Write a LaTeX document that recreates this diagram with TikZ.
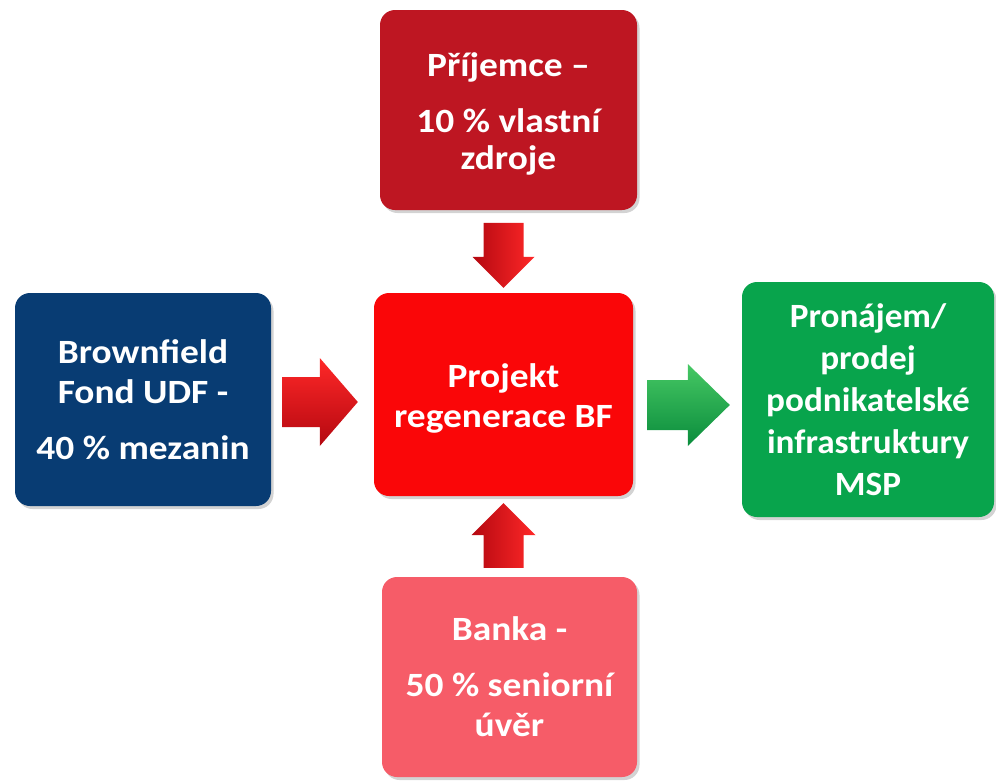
\documentclass[tikz,border=0pt]{standalone}
\usepackage{fontspec}
\setmainfont{Carlito}
\newfontfamily\widefont[FakeStretch=1.1]{Carlito}
\newfontfamily\grnfont[FakeStretch=1.035]{Carlito}
\usetikzlibrary{calc,shadows}
\definecolor{topred}{RGB}{190,22,34}
\definecolor{leftblue}{RGB}{8,60,115}
\definecolor{midred}{RGB}{250,6,8}
\definecolor{rightgreen}{RGB}{8,164,76}
\definecolor{botpink}{RGB}{246,92,104}
\definecolor{arrlight}{RGB}{255,40,40}
\definecolor{arrdark}{RGB}{180,8,16}
\definecolor{grnlight}{RGB}{70,200,100}
\definecolor{grndark}{RGB}{10,140,60}
\newcommand\blockarrow[6]{%
  \coordinate (ba-h) at ($(#2)!#5!(#1)$);
  \path[#6] ($(#1)!#3!90:(#2)$) -- ($(ba-h)!#3!90:(#2)$) -- ($(ba-h)!#4!90:(#2)$)
    -- (#2) -- ($(ba-h)!#4!-90:(#2)$) -- ($(ba-h)!#3!-90:(#2)$)
    -- ($(#1)!#3!-90:(#2)$) -- cycle;
}
\newcommand\lowertext[2]{\raisebox{-#1}[\height][\depth]{\parbox{250pt}{\centering #2}}}
\tikzset{
  box/.style={rounded corners=15pt, text=white, align=center, inner sep=0pt,
    drop shadow={opacity=0.35, shadow xshift=2.5pt, shadow yshift=-3pt}},
  redarrowh/.style={top color=arrlight, bottom color=arrdark},
  redarrowv/.style={left color=arrdark, right color=arrlight},
  grnarrow/.style={top color=grnlight, bottom color=grndark},
}
\begin{document}
\begin{tikzpicture}[x=1pt,y=-1pt]
\useasboundingbox (0,0) rectangle (996,782);
\node[box, fill=topred, minimum width=257pt, minimum height=200pt,
  font=\widefont\fontsize{34}{37}\selectfont\bfseries] (top) at (508.5,110)
  {\lowertext{4pt}{Příjemce –\\[19pt]10 \% vlastní\\zdroje}};
\node[box, fill=leftblue, minimum width=256pt, minimum height=213pt,
  font=\widefont\fontsize{34}{40}\selectfont\bfseries] (left) at (143,399.5)
  {Brownfield\\Fond UDF -\\[16pt]40 \% mezanin};
\node[box, fill=midred, minimum width=259pt, minimum height=203pt,
  font=\widefont\fontsize{34}{40}\selectfont\bfseries] (mid) at (503.5,394.5)
  {\lowertext{4pt}{Projekt\\regenerace BF}};
\node[box, fill=rightgreen, minimum width=252pt, minimum height=235pt,
  font=\grnfont\fontsize{34}{42}\selectfont\bfseries] (right) at (868,399.5)
  {Pronájem/\\prodej\\podnikatelské\\infrastruktury\\MSP};
\node[box, fill=botpink, minimum width=255pt, minimum height=200pt,
  font=\widefont\fontsize{34}{40}\selectfont\bfseries] (bot) at (509.5,677)
  {Banka -\\[16pt]50 \% seniorní\\úvěr};
% arrows
\coordinate (a1s) at ($(mid.north)+(0,-70)$);
\coordinate (a1e) at ($(mid.north)+(0,-5)$);
\blockarrow{a1s}{a1e}{20pt}{31pt}{31pt}{redarrowv}
\coordinate (a2s) at ($(bot.north)+(-6,-9)$);
\coordinate (a2e) at ($(mid.south)+(0,7)$);
\blockarrow{a2s}{a2e}{20pt}{32pt}{32pt}{redarrowv}
\coordinate (a3s) at ($(left.east)+(11,2.5)$);
\coordinate (a3e) at ($(mid.west)+(-16,7.5)$);
\blockarrow{a3s}{a3e}{25pt}{44pt}{38pt}{redarrowh}
\coordinate (a4s) at ($(mid.east)+(14,10.5)$);
\coordinate (a4e) at ($(right.west)+(-12,5.5)$);
\blockarrow{a4s}{a4e}{25pt}{41pt}{42pt}{grnarrow}
\end{tikzpicture}
\end{document}
